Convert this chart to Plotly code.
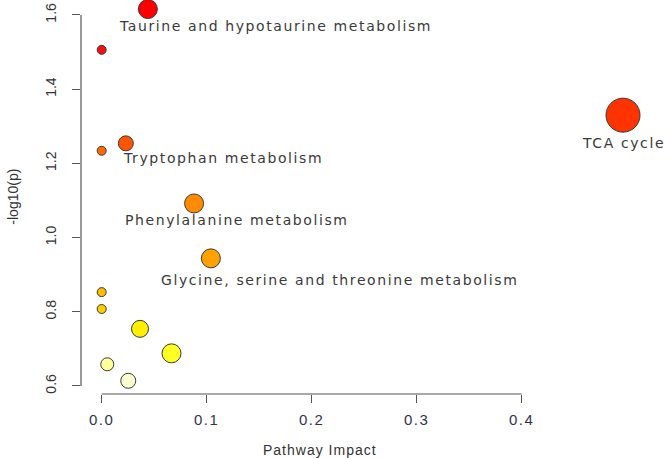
import plotly.graph_objects as go

# ---- data ----
pathway = [
    "Taurine and hypotaurine metabolism", "", "Tryptophan metabolism", "",
    "Phenylalanine metabolism", "Glycine, serine and threonine metabolism",
    "", "", "", "", "", "", "TCA cycle",
]
impact = [0.044, 0.0, 0.023, 0.0, 0.088, 0.104, 0.0, 0.0, 0.0365, 0.0665, 0.0053, 0.0253, 0.4965]
neglogp = [1.616, 1.506, 1.254, 1.234, 1.092, 0.944, 0.853, 0.8075, 0.754, 0.688, 0.6585, 0.614, 1.330]
bubble_size = [19, 9, 15, 9, 19, 19, 9, 9, 17, 19, 13, 15, 34]
bubble_color = ["#FF0000", "#F01010", "#FF5500", "#FF6A00", "#FF8C00", "#FFA200",
                "#FFBB00", "#FFCC00", "#FFF000", "#FFFF22", "#FFFF99", "#FFFFD0", "#FF3300"]

x_ticks = [0.0, 0.1, 0.2, 0.3, 0.4]
y_ticks = [0.6, 0.8, 1.0, 1.2, 1.4, 1.6]
x_title = "Pathway Impact"
y_title = "-log10(p)"

# label offsets (pixels) relative to bubble centre
label_shift = {0: (128, -17), 2: (97, -15), 4: (43, -17), 5: (129, -22), 12: (0, -28)}


def spaced(t, px):
    return f'<span style="letter-spacing:{px}px">{t}</span>'


fig = go.Figure()
fig.add_trace(go.Scatter(
    x=impact, y=neglogp, mode="markers",
    marker=dict(size=bubble_size, color=bubble_color,
                line=dict(color="#3a3a3a", width=1), opacity=1),
    cliponaxis=False, hoverinfo="text", text=pathway,
))

annotations = []
for i, (dx, dy) in label_shift.items():
    annotations.append(dict(
        x=impact[i], y=neglogp[i], xref="x", yref="y", text=spaced(pathway[i], 1.6),
        showarrow=False, xanchor="center", yanchor="middle", xshift=dx, yshift=dy,
        font=dict(family="DejaVu Sans", size=14, color="#3a3a3a"),
    ))
annotations.append(dict(
    x=0.409, y=-0.142, xref="paper", yref="paper", text=spaced(x_title, 1.0), showarrow=False,
    xanchor="center", yanchor="middle",
    font=dict(family="Liberation Sans", size=14, color="#333333"),
))
annotations.append(dict(
    x=-0.117, y=0.5, xref="paper", yref="paper", text=y_title, showarrow=False,
    textangle=-90, xanchor="center", yanchor="middle",
    font=dict(family="Liberation Sans", size=14, color="#333333"),
))

shapes = [
    dict(type="line", xref="x", yref="paper", x0=min(x_ticks), x1=max(x_ticks), y0=0, y1=0,
         line=dict(color="#555555", width=1.2)),
    dict(type="line", xref="paper", yref="y", x0=0, x1=0, y0=min(y_ticks), y1=max(y_ticks),
         line=dict(color="#555555", width=1.2)),
]

fig.update_layout(
    width=665, height=458,
    margin=dict(l=81, r=0, t=0, b=64),
    paper_bgcolor="white", plot_bgcolor="white",
    showlegend=False,
    annotations=annotations, shapes=shapes,
    xaxis=dict(range=[-0.0197, 0.5365], tickvals=x_ticks,
               ticktext=[spaced(f"{v:.1f}", 1.5) for v in x_ticks],
               showgrid=False, zeroline=False, showline=False,
               ticks="outside", ticklen=8, tickcolor="#555555", tickwidth=1.2,
               tickfont=dict(family="Liberation Sans", size=15, color="#33334d"),
               ticklabelstandoff=4),
    yaxis=dict(range=[0.5784, 1.6404], tickvals=y_ticks,
               ticktext=[f"{v:.1f}" for v in y_ticks],
               showgrid=False, zeroline=False, showline=False,
               ticks="outside", ticklen=8, tickcolor="#555555", tickwidth=1.2,
               tickangle=-90,
               tickfont=dict(family="Liberation Sans", size=14, color="#333333"),
               ticklabelstandoff=10),
)

fig.write_html("out.html", config={"displayModeBar": False},
               post_script="document.body.style.margin='0px';")
